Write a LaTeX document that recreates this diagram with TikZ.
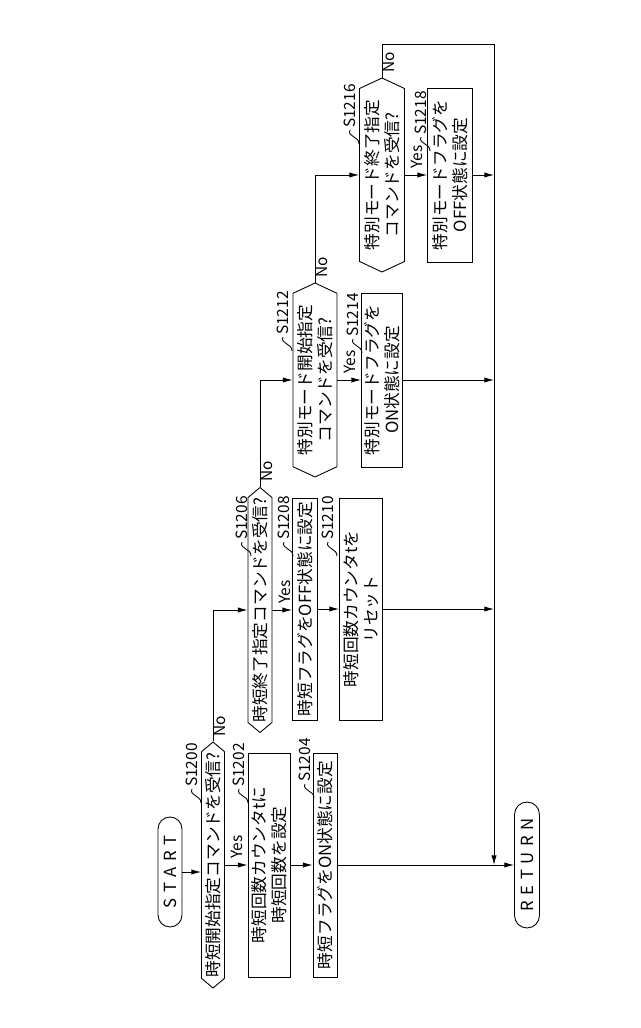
\documentclass[tikz,border=0pt]{standalone}
\usepackage{fontspec}
\setmainfont{Noto Sans CJK JP}
\usepackage{tikz}
\usetikzlibrary{shapes.misc,shapes.symbols,arrows.meta,calc}

\tikzset{
  every node/.style={font=\fontsize{9.5}{11.5}\selectfont},
  arr/.style={-{Latex[length=5.5pt,width=3pt]}},
  term/.style={draw,rounded rectangle,rotate=90,inner sep=0pt},
  proc/.style={draw,rectangle,rotate=90,inner sep=0pt,align=center},
  decide/.style={draw,signal,signal to=east and west,signal pointer angle=100,rotate=90,inner sep=0pt,align=center},
  lbl/.style={rotate=90,inner sep=1pt,font=\fontsize{8.8}{10}\selectfont}
}
% step number with a small tilde leader
\newcommand\stepno[3]{%
  \node[lbl,anchor=west] at (#1,#2) {#3};
  \draw (#1,#2) .. controls ($(#1,#2)+(-3,7)$) and ($(#1,#2)+(9,6)$) .. ($(#1,#2)+(9,14)$);
}

\begin{document}
\begin{tikzpicture}[x=0.02cm,y=-0.02cm,line width=0.5pt]
  \useasboundingbox (0,0) rectangle (640,1028);

  \node(start)[term,minimum width=2.2cm,minimum height=0.48cm] at (170,872) {S\,\,T\,\,A\,\,R\,\,T};
  \node(s1200)[decide,minimum width=4.92cm,minimum height=0.46cm] at (213,865) {時短開始指定コマンドを受信?};
  \node(s1202)[proc,minimum width=4.48cm,minimum height=0.84cm] at (269,865) {時短回数カウンタtに\\時短回数を設定};
  \node(s1204)[proc,minimum width=4.48cm,minimum height=0.48cm] at (325,865) {時短フラグをON状態に設定};

  \node(s1206)[decide,minimum width=4.88cm,minimum height=0.48cm] at (260,610) {時短終了指定コマンドを受信?};
  \node(s1208)[proc,minimum width=4.44cm,minimum height=0.5cm] at (305,609) {時短フラグをOFF状態に設定};
  \node(s1210)[proc,minimum width=4.44cm,minimum height=0.86cm] at (361,609) {時短回数カウンタtを\\リセット};

  \node(s1212)[decide,signal pointer angle=130,minimum width=3.88cm,minimum height=0.88cm] at (315,380) {特別モード開始指定\\コマンドを受信?};
  \node(s1214)[proc,minimum width=3.48cm,minimum height=0.82cm] at (382,380) {特別モードフラグを\\ON状態に設定};

  \node(s1216)[decide,signal pointer angle=130,minimum width=3.88cm,minimum height=0.9cm] at (382,175) {特別モード終了指定\\コマンドを受信?};
  \node(s1218)[proc,minimum width=3.48cm,minimum height=0.9cm] at (450,175) {特別モードフラグを\\OFF状態に設定};

  \node(ret)[term,minimum width=2.52cm,minimum height=0.5cm] at (527,865) {R\,\,E\,\,T\,\,U\,\,R\,\,N};

  \coordinate(jtop) at (494,44);
  \coordinate(jbot) at (494,865);

  \draw[arr] (start.south) -- (start.south -| s1200.north);
  \draw[arr] (s1200.south) -- (s1200.south -| s1202.north);
  \draw[arr] (s1202.south) -- (s1202.south -| s1204.north);
  \draw[arr] (s1204.south) -- (ret.north);
  \draw[arr] (s1200.east) |- (s1206.north);
  \draw[arr] (s1206.south) -- (s1206.south -| s1208.north);
  \draw[arr] (s1208.south) -- (s1208.south -| s1210.north);
  \draw[arr] (s1210.south) -- (s1210.south -| jbot);
  \draw[arr] (s1206.east) |- (s1212.north);
  \draw[arr] (s1212.south) -- (s1212.south -| s1214.north);
  \draw[arr] (s1214.south) -- (s1214.south -| jbot);
  \draw[arr] (s1212.east) |- (s1216.north);
  \draw[arr] (s1216.south) -- (s1216.south -| s1218.north);
  \draw[arr] (s1218.south) -- (s1218.south -| jbot);
  \draw[arr] (s1216.east) |- (jtop) -- (jbot);

  \node[lbl,anchor=west] at ($(s1200.south)+(12,-4)$) {Yes};
  \node[lbl,anchor=west] at ($(s1206.south)+(12,-4)$) {Yes};
  \node[lbl,anchor=west] at ($(s1212.south)+(12,-4)$) {Yes};
  \node[lbl,anchor=west] at ($(s1216.south)+(12,-4)$) {Yes};
  \node[lbl,anchor=west] at ($(s1200.east)+(7,-3)$) {No};
  \node[lbl,anchor=west] at ($(s1206.east)+(7,-3)$) {No};
  \node[lbl,anchor=west] at ($(s1212.east)+(7,-3)$) {No};
  \node[lbl,anchor=west] at ($(s1216.east)+(7,-3)$) {No};

  \stepno{192}{789}{S1200}
  \stepno{239}{789}{S1202}
  \stepno{305}{784}{S1204}
  \stepno{242}{542}{S1206}
  \stepno{284}{542}{S1208}
  \stepno{328}{542}{S1210}
  \stepno{283}{337}{S1212}
  \stepno{353}{339}{S1214}
  \stepno{350}{130}{S1216}
  \stepno{421}{137}{S1218}
\end{tikzpicture}
\end{document}
